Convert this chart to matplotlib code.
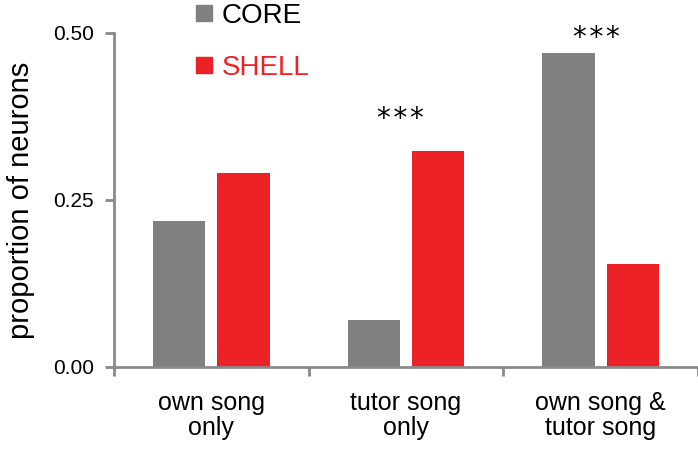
import numpy as np
import matplotlib.pyplot as plt
from matplotlib.lines import Line2D

plt.rcParams['font.family'] = ['Liberation Sans', 'DejaVu Sans']

categories = ["own song\nonly", "tutor song\nonly", "own song &\ntutor song"]
core = [0.219, 0.071, 0.470]
shell = [0.291, 0.323, 0.154]
stars = ["", "*\u200a*\u200a*", "*\u200a*\u200a*"]

gray = "#808080"
red = "#ec2227"
axis_col = "#8a8a8a"

fig = plt.figure(figsize=(6.98, 4.54), dpi=100)
ax = fig.add_axes([114 / 698, 1 - 367 / 454, 1 - 114 / 698, (367 - 33) / 454])

pos = np.arange(len(categories))
width = 0.27
off = 0.165
ax.bar(pos - off, core, width, color=gray, label="CORE")
ax.bar(pos + off, shell, width, color=red, label="SHELL")

star_x = [0, 0.97, 1.98]
star_y = [0, 0.371, 0.493]
for x, y, s in zip(star_x, star_y, stars):
    if s:
        ax.text(x, y, s, ha="center", va="center", fontsize=20,
                family="DejaVu Sans")

ax.set_xlim(-0.5, 2.5)
ax.set_ylim(0, 0.5)
ax.set_yticks([0, 0.25, 0.5])
ax.set_yticklabels(["0.00", "0.25", "0.50"], fontsize=15)
ax.set_xticks([-0.5, 0.5, 1.5, 2.5])
ax.set_xticklabels([])
ax.set_xticks(pos, minor=True)
ax.set_xticklabels(categories, minor=True, fontsize=18, linespacing=1.05)
ax.tick_params(axis="x", which="minor", length=0, pad=17)
ax.tick_params(axis="x", which="major", length=6.5, width=2, color=axis_col)
ax.tick_params(axis="y", length=6.5, width=2, color=axis_col, pad=8)
ax.set_ylabel("proportion of neurons", fontsize=21, labelpad=13)

for side in ["top", "right"]:
    ax.spines[side].set_visible(False)
for side in ["left", "bottom"]:
    ax.spines[side].set_color(axis_col)
    ax.spines[side].set_linewidth(2)

handles = [Line2D([], [], marker="s", ls="", color=gray, markersize=11),
           Line2D([], [], marker="s", ls="", color=red, markersize=11)]
leg = ax.legend(handles, ["CORE", "SHELL"], loc="upper left",
                bbox_to_anchor=(190 / 698, 1.0), bbox_transform=fig.transFigure,
                frameon=False, fontsize=20, handlelength=0.8, handletextpad=0.25,
                labelspacing=0.95, borderaxespad=0, borderpad=0.1)
leg.get_texts()[1].set_color(red)

fig.savefig("out.png", dpi=100)
